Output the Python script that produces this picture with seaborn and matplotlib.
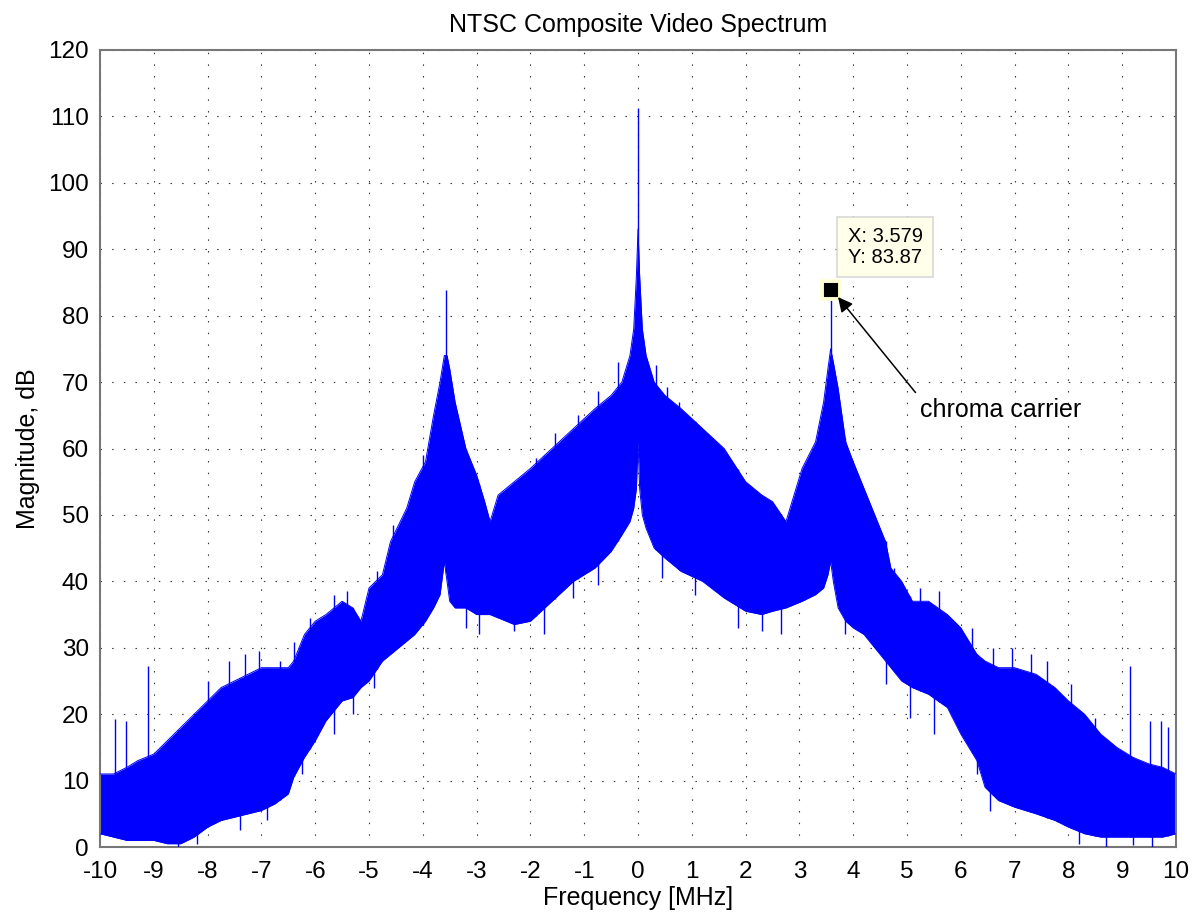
import numpy as np
import pandas as pd
import matplotlib
matplotlib.use('Agg')
import matplotlib.pyplot as plt
import seaborn as sns

sns.set_style('white')
plt.rcParams['font.family'] = ['Liberation Sans', 'DejaVu Sans']
plt.rcParams['axes.unicode_minus'] = False
plt.rcParams['text.color'] = 'black'
plt.rcParams['axes.labelcolor'] = 'black'

# envelope of the spectrum (MHz, dB)
freq = [-10, -9.75, -9.5, -9.3, -9.0, -8.75, -8.5, -8.25, -8.0, -7.75, -7.5, -7.25,
        -7.0, -6.75, -6.5, -6.4, -6.2, -6.0, -5.8, -5.5, -5.3, -5.15, -5.0, -4.75,
        -4.6, -4.3, -4.15, -3.95, -3.8, -3.68, -3.6, -3.55, -3.5, -3.4, -3.2, -3.0,
        -2.85, -2.75, -2.6, -2.3, -2.0, -1.6, -1.2, -0.8, -0.5, -0.3, -0.15, -0.08,
        -0.03, 0.0, 0.03, 0.08, 0.15, 0.3, 0.5, 0.8, 1.2, 1.6, 2.0, 2.3, 2.5, 2.75,
        2.9, 3.05, 3.3, 3.45, 3.53, 3.58, 3.63, 3.72, 3.86, 4.0, 4.2, 4.4, 4.6, 4.7,
        4.9, 5.1, 5.4, 5.75, 6.0, 6.3, 6.45, 6.7, 7.0, 7.4, 7.75, 8.0, 8.3, 8.6,
        8.9, 9.2, 9.5, 9.75, 10.0]
upper_db = [11, 11, 12, 13, 14, 16, 18, 20, 22, 24, 25, 26,
            27, 27, 27, 28, 32, 34, 35, 37, 36, 34, 39, 41,
            46, 51, 55, 58, 65, 70, 74, 74, 72, 67, 60, 56,
            52, 49, 53, 55, 57, 60, 63, 66, 68, 70, 74, 78,
            86, 93, 86, 78, 74, 70, 68, 66, 63, 60, 55, 53, 52, 49,
            53, 57, 61, 67, 72, 75, 73, 69, 61, 58, 54, 50, 46, 42,
            40, 37, 37, 35, 33, 29, 28, 27, 27, 26, 24, 22, 20, 17,
            15, 13.5, 12.5, 12, 11]
lower_db = [2, 1.5, 1, 1, 1, 0.5, 0.5, 1.5, 3, 4, 4.5, 5,
            5.5, 6.5, 8, 10.5, 13.5, 16, 19, 22, 22.5, 24, 25, 28,
            29, 31, 32, 34, 36, 38, 43, 40, 37, 36, 36, 35,
            35, 35, 34.5, 33.5, 34, 37, 40, 42, 44.5, 47, 49, 51,
            54, 61, 54, 50, 48, 45, 43.5, 41.5, 40, 37.5, 35.5, 35, 35.5, 36,
            36.5, 37, 38, 39, 41, 43, 40, 36, 34, 33, 32, 30, 28, 27,
            25, 24, 23, 21, 17, 13, 9, 7, 6, 5, 4, 3, 2, 1.5,
            1.5, 1.5, 1.5, 1.5, 2]

# isolated spikes above the band
spike_freq = [0.0, -3.57, 3.579, -9.11, 9.14, -9.72, -9.52, 9.52, 9.72, -8.0, -7.6,
              -7.3, -7.05, -6.65, -6.39, -6.1, -5.65, -5.4, -4.85, -4.55, -4.0,
              -1.9, -1.55, -1.12, -0.75, -0.38, 0.34, 0.53, 0.77, 1.08,
              4.75, 5.25, 5.6, 6.2, 6.6, 6.95, 7.3, 7.6, 8.05, 8.5, 9.85]
spike_db = [111.2, 83.9, 83.87, 27.3, 27.3, 19.3, 19, 19, 19, 25, 28,
            29, 29.5, 28, 30.8, 34.5, 38, 38.5, 41.5, 48.5, 59,
            58.5, 62.3, 65, 68.7, 73, 72.5, 69.3, 67, 64,
            42, 39, 38.5, 33, 30, 30, 29, 28, 24.5, 19.5, 18]

# dips below the band
dip_freq = [-8.55, -8.2, -7.4, -6.9, -6.25, -5.65, -5.3, -4.9, -3.2, -2.95, -2.3,
            -1.75, -1.2, -0.75, 0.45, 1.05, 1.85, 2.3, 2.65, 3.85, 4.6, 5.05, 5.5,
            6.3, 6.55, 8.2, 8.7, 9.2, 9.55]
dip_db = [0, 0.5, 2.5, 4, 11, 17, 20, 24, 33, 32, 32.5,
          32, 37.5, 39.5, 40.5, 38, 33, 32.5, 32, 32, 24.5, 19.5, 17,
          11, 5.5, 0.5, 0, 0.3, 0]

marker_x = 3.579
marker_y = 83.87

df = pd.DataFrame({'freq': freq, 'upper': upper_db, 'lower': lower_db})

fig = plt.figure(figsize=(11.92, 9.22), dpi=100)
ax = fig.add_axes([0.0839, 0.0813, 0.9027, 0.8645])

blue = '#0000FF'
ax.fill_between(df['freq'], df['lower'], df['upper'], color=blue, lw=0, zorder=2)
sns.lineplot(data=df, x='freq', y='upper', color=blue, lw=0.7, ax=ax, zorder=3)
sns.lineplot(data=df, x='freq', y='lower', color=blue, lw=0.7, ax=ax, zorder=3)
spike_base = np.interp(spike_freq, freq, lower_db)
ax.vlines(spike_freq, spike_base, spike_db, color=blue, lw=1.0, zorder=3)
dip_top = np.interp(dip_freq, freq, upper_db)
ax.vlines(dip_freq, dip_db, dip_top, color=blue, lw=1.0, zorder=3)

# data tip
ax.plot([marker_x], [marker_y], marker='s', ms=13.5, color='black',
        mec='#FFFFD6', mew=2.8, zorder=6)
ax.text(4.591, 90.36, 'X: 3.579\nY: 83.87', ha='center', va='center', fontsize=14.5,
        linespacing=1.15, color='black', zorder=7,
        bbox=dict(boxstyle='square,pad=0.5', fc='#FFFFEA', ec='#D8D8D8', lw=1.2))

ax.annotate('chroma carrier', xy=(3.717, 82.8), xytext=(5.24, 65.8),
            fontsize=18, va='center', ha='left', zorder=7,
            arrowprops=dict(arrowstyle='-|>', color='black', lw=1.1,
                            mutation_scale=22, relpos=(0, 1), shrinkA=2, shrinkB=0))

ax.set_xlim(-10, 10)
ax.set_ylim(0, 120)
ax.set_xticks(np.arange(-10, 11, 1))
ax.set_yticks(np.arange(0, 121, 10))
ax.tick_params(length=0, labelsize=17.5, colors='black')
ax.tick_params(axis='x', pad=10)
ax.tick_params(axis='y', pad=8)
ax.grid(True, color='#333333', lw=0.8, linestyle=(0, (1.3, 9.2)))
ax.set_axisbelow(True)
for s in ax.spines.values():
    s.set_color('#777777')
    s.set_linewidth(1.5)

ax.set_title('NTSC Composite Video Spectrum', fontsize=18, pad=13)
ax.set_xlabel('Frequency [MHz]', fontsize=18, labelpad=2)
ax.set_ylabel('Magnitude, dB', fontsize=18, labelpad=6)

fig.savefig('out.png', dpi=100)
